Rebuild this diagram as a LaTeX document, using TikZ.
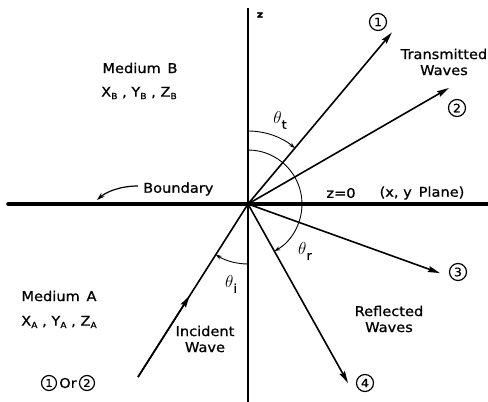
\documentclass[tikz,border=0pt]{standalone}
\usepackage{fontspec}
\setmainfont[FakeStretch=1.08,FakeBold=0.8]{DejaVu Sans}
\usetikzlibrary{arrows.meta,calc}
\newcommand\sbs[1]{\raisebox{-2.5pt}{\fontsize{8.5}{8.5}\selectfont #1}}
\newcommand\thsub[1]{$\theta$\raisebox{-5.5pt}{\fontsize{12}{12}\selectfont #1}}
\begin{document}
\begin{tikzpicture}[x=1pt,y=1pt,
  lbl/.style={font=\fontsize{13.5}{16}\selectfont, inner sep=0pt, align=center},
  ray/.style={line width=1.6pt, -{Stealth[length=12pt,width=6pt,inset=1.5pt]}},
  ang/.style={line width=0.9pt, -{Stealth[length=6pt,width=4pt]}},
  num/.style={circle, draw, line width=1.2pt, minimum size=17pt, inner sep=0pt, font=\fontsize{11.5}{11.5}\selectfont},
  greek/.style={inner sep=0pt, font=\fontsize{19}{19}\selectfont}
]
\useasboundingbox (-248,-198) rectangle (240,204);
\coordinate (O) at (0,0);
\coordinate (ztop) at (0,196);
\coordinate (zbot) at (0,-198);
\coordinate (bl) at (-240,0);
\coordinate (br) at (240,0);
\draw[line width=1.4pt] (ztop) -- (zbot);
\draw[line width=3.5pt, line cap=round] (bl) -- (br);
\node[lbl, font=\bfseries\fontsize{10}{10}\selectfont] (z) at (12,189) {z};

% rays
\coordinate (T1) at (50:224);
\coordinate (T2) at (30:232);
\coordinate (T3) at (-19.8:204);
\coordinate (T4) at (-60.8:205);
\coordinate (S) at (-110,-173);
\draw[ray] (O) -- (T1);
\draw[ray] (O) -- (T2);
\draw[ray] (O) -- (T3);
\draw[ray] (O) -- (T4);
\draw[line width=1.6pt] (S) -- (O);
\draw[ray] (S) -- ($(S)!0.47!(O)$);

% circled numbers
\node[num] (n1) at (130,182) {1};
\node[num] (n2) at (209,96) {2};
\node[num] (n3) at (210,-68) {3};
\node[num] (n4) at (117,-179) {4};

% angle arcs
\draw[ang] (0,73) arc[start angle=90, end angle=50, radius=73];
\draw[ang] (0,54) arc[start angle=90, end angle=-60.8, radius=54];
\draw[ang] (0,-60) arc[start angle=-90, end angle=-122.5, radius=60];
\node[greek] (tht) at (32,84) {\thsub{t}};
\node[greek] (thr) at (57,-47) {\thsub{r}};
\node[greek] (thi) at (-17,-80) {\thsub{i}};

% boundary label
\node[lbl, anchor=west] (bd) at (-105,15) {Boundary};
\coordinate (bs) at (-110,18);
\coordinate (be) at (-151,4);
\draw[line width=1.2pt, -{Stealth[length=8pt,width=5pt]}] (bs) .. controls (-128,18) and (-142,12) .. (be);

\node[lbl] (z0) at (93,11) {z=0};
\node[lbl] (plane) at (174,11) {(x, y\, Plane)};

% media
\node[lbl] (mb) at (-108,136) {Medium\enspace B};
\node[lbl] (mbx) at (-109,111) {X\sbs{B} , Y\sbs{B} , Z\sbs{B}};
\node[lbl] (ma) at (-189,-92) {Medium\enspace A};
\node[lbl] (max) at (-189,-118) {X\sbs{A} , Y\sbs{A} , Z\sbs{A}};

\node[lbl] (tw) at (196,142) {Transmitted\\Waves};
\node[lbl] (rw) at (141,-115) {Reflected\\Waves};
\node[lbl] (iw) at (-43,-135) {Incident\\Wave};

% 1 or 2
\node[num, minimum size=15pt, font=\fontsize{10.5}{10.5}\selectfont] (c1) at (-199,-179) {1};
\node[lbl] (or) at (-180,-179) {Or};
\node[num, minimum size=15pt, font=\fontsize{10.5}{10.5}\selectfont] (c2) at (-161,-179) {2};
\end{tikzpicture}
\end{document}
